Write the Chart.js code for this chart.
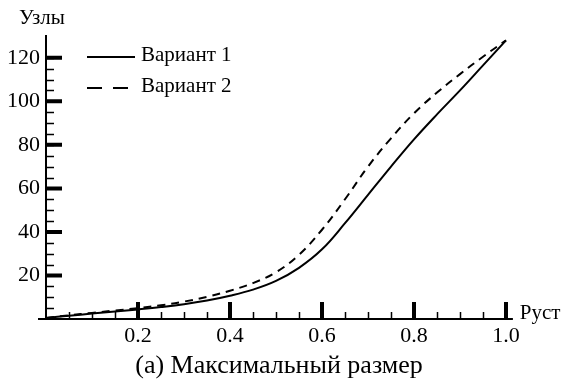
<!DOCTYPE html>
<html>
<head>
<meta charset="utf-8">
<script src="https://cdn.jsdelivr.net/npm/chart.js@4/dist/chart.umd.min.js"></script>
<style>
  html, body { margin: 0; padding: 0; background: #fff; }
  #wrap { width: 571px; height: 389px; position: relative; }
</style>
</head>
<body>
<div id="wrap"><canvas id="chart" width="571" height="389"></canvas></div>
<script>
// sample positions (Руст) and the two curves (Узлы)
var xValues = [0, 0.05, 0.1, 0.15, 0.2, 0.25, 0.3, 0.35, 0.4, 0.45, 0.5, 0.55, 0.6, 0.65, 0.7, 0.75, 0.8, 0.85, 0.9, 0.95, 1.0];
var variant1 = [0.5, 1.5, 2.5, 3.4, 4.4, 5.5, 6.8, 8.5, 10.7, 13.5, 17.5, 23.5, 32, 44, 57, 70, 82.5, 94, 105, 116.5, 128];
var variant2 = [0.5, 1.7, 2.8, 3.9, 5, 6.3, 8, 10.2, 13, 16.5, 21.5, 29.5, 41, 55, 70, 83, 94.5, 104, 112.5, 120.5, 128];
var seriesNames = ['Вариант 1', 'Вариант 2'];
var xTicks = [0.2, 0.4, 0.6, 0.8, 1.0];
var yTicks = [20, 40, 60, 80, 100, 120];
var xMinorStep = 0.05;
var yMinorStep = 5;
var xTitle = 'Руст';
var yTitle = 'Узлы';
var caption = '(a) Максимальный размер';

var SERIF = '"Liberation Serif", "DejaVu Serif", serif';

function toPoints(xs, ys) {
  var pts = [];
  for (var i = 0; i < xs.length; i++) {
    pts.push({x: xs[i], y: ys[i]});
  }
  return pts;
}

// draws the axes with inside ticks, labels, legend and caption
var decorPlugin = {
  id: 'decor',
  afterDraw: function(chart) {
    var ctx = chart.ctx;
    var xs = chart.scales.x;
    var ys = chart.scales.y;
    var x0 = xs.getPixelForValue(0);
    var y0 = ys.getPixelForValue(0);

    ctx.save();
    ctx.strokeStyle = '#000';
    ctx.fillStyle = '#000';

    // axis lines
    ctx.lineWidth = 2;
    ctx.beginPath();
    ctx.moveTo(x0 - 8, y0);
    ctx.lineTo(xs.getPixelForValue(1.015), y0);
    ctx.moveTo(x0, y0);
    ctx.lineTo(x0, ys.getPixelForValue(130.5));
    ctx.stroke();

    // minor ticks
    ctx.lineWidth = 1.5;
    ctx.beginPath();
    for (var v = xMinorStep; v < 1.0001; v += xMinorStep) {
      var px = Math.round(xs.getPixelForValue(v)) + 0.5;
      ctx.moveTo(px, y0);
      ctx.lineTo(px, y0 - 7);
    }
    for (var w = yMinorStep; w < 120.001; w += yMinorStep) {
      var py = Math.round(ys.getPixelForValue(w)) + 0.5;
      ctx.moveTo(x0, py);
      ctx.lineTo(x0 + 8, py);
    }
    ctx.stroke();

    // major ticks
    ctx.lineWidth = 4;
    ctx.beginPath();
    xTicks.forEach(function(t) {
      var px = xs.getPixelForValue(t);
      ctx.moveTo(px, y0);
      ctx.lineTo(px, y0 - 17);
    });
    yTicks.forEach(function(t) {
      var py = ys.getPixelForValue(t);
      ctx.moveTo(x0, py);
      ctx.lineTo(x0 + 16, py);
    });
    ctx.stroke();

    // tick labels
    ctx.font = '22px ' + SERIF;
    ctx.textAlign = 'center';
    ctx.textBaseline = 'middle';
    xTicks.forEach(function(t) {
      ctx.fillText(t.toFixed(1), xs.getPixelForValue(t), y0 + 17);
    });
    ctx.textAlign = 'right';
    yTicks.forEach(function(t) {
      ctx.fillText(String(t), x0 - 6, ys.getPixelForValue(t));
    });

    // axis titles
    ctx.font = '21px ' + SERIF;
    ctx.textAlign = 'left';
    ctx.fillText(xTitle, xs.getPixelForValue(1.03), y0 - 6);
    ctx.fillText(yTitle, 19, 18);

    // legend
    var lx = 87, ly = [57, 88];
    ctx.lineWidth = 2;
    ctx.font = '21px ' + SERIF;
    for (var k = 0; k < seriesNames.length; k++) {
      ctx.setLineDash(k === 0 ? [] : [15, 11]);
      ctx.beginPath();
      ctx.moveTo(lx, ly[k]);
      ctx.lineTo(lx + 48, ly[k]);
      ctx.stroke();
      ctx.setLineDash([]);
      ctx.fillText(seriesNames[k], lx + 54, ly[k] - 2);
    }

    // caption
    ctx.font = '26px ' + SERIF;
    ctx.textAlign = 'center';
    ctx.fillText(caption, 279, 366);
    ctx.restore();
  }
};

var ctx = document.getElementById('chart');
var chart = new Chart(ctx, {
  type: 'line',
  data: {
    datasets: [{
      label: seriesNames[0],
      data: toPoints(xValues, variant1),
      borderColor: '#000',
      borderWidth: 2,
      pointRadius: 0,
      tension: 0.4,
      fill: false,
      clip: false
    }, {
      label: seriesNames[1],
      data: toPoints(xValues, variant2),
      borderColor: '#000',
      borderWidth: 2,
      borderDash: [8, 6],
      pointRadius: 0,
      tension: 0.4,
      fill: false,
      clip: false
    }]
  },
  options: {
    responsive: false,
    animation: false,
    events: [],
    layout: {
      padding: {left: 46, right: 65, top: 36, bottom: 70}
    },
    scales: {
      x: {type: 'linear', min: 0, max: 1.0, display: false},
      y: {type: 'linear', min: 0, max: 130, display: false}
    },
    plugins: {
      legend: {display: false},
      tooltip: {enabled: false}
    }
  },
  plugins: [decorPlugin]
});
</script>
</body>
</html>
